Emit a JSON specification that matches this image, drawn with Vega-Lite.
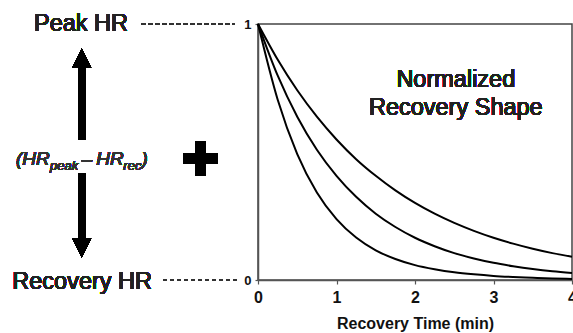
{
  "$schema": "https://vega.github.io/schema/vega-lite/v6.json",
  "autosize": {"type": "none"},
  "padding": {"left": 258, "top": 24, "right": 1, "bottom": 53},
  "width": 314,
  "height": 256,
  "background": "white",
  "config": {
    "font": "Liberation Sans",
    "view": {"stroke": "#444", "strokeWidth": 1.5},
    "text": {"fontWeight": "normal"},
    "axis": {"grid": false, "domainColor": "#555", "domainWidth": 1.5, "tickColor": "#555", "tickWidth": 1.2, "labelColor": "#111", "labelFontWeight": "bold", "titleColor": "#111"}
  },
  "data": {"values": [
    {"t": 0, "v": 1, "curve": "a"},
    {"t": 0.25, "v": 0.861, "curve": "a"},
    {"t": 0.5, "v": 0.741, "curve": "a"},
    {"t": 0.75, "v": 0.638, "curve": "a"},
    {"t": 1, "v": 0.549, "curve": "a"},
    {"t": 1.25, "v": 0.472, "curve": "a"},
    {"t": 1.5, "v": 0.407, "curve": "a"},
    {"t": 1.75, "v": 0.35, "curve": "a"},
    {"t": 2, "v": 0.301, "curve": "a"},
    {"t": 2.25, "v": 0.259, "curve": "a"},
    {"t": 2.5, "v": 0.223, "curve": "a"},
    {"t": 2.75, "v": 0.192, "curve": "a"},
    {"t": 3, "v": 0.165, "curve": "a"},
    {"t": 3.25, "v": 0.142, "curve": "a"},
    {"t": 3.5, "v": 0.122, "curve": "a"},
    {"t": 3.75, "v": 0.105, "curve": "a"},
    {"t": 4, "v": 0.091, "curve": "a"},
    {"t": 0, "v": 1, "curve": "b"},
    {"t": 0.25, "v": 0.799, "curve": "b"},
    {"t": 0.5, "v": 0.638, "curve": "b"},
    {"t": 0.75, "v": 0.509, "curve": "b"},
    {"t": 1, "v": 0.407, "curve": "b"},
    {"t": 1.25, "v": 0.325, "curve": "b"},
    {"t": 1.5, "v": 0.259, "curve": "b"},
    {"t": 1.75, "v": 0.207, "curve": "b"},
    {"t": 2, "v": 0.165, "curve": "b"},
    {"t": 2.25, "v": 0.132, "curve": "b"},
    {"t": 2.5, "v": 0.105, "curve": "b"},
    {"t": 2.75, "v": 0.084, "curve": "b"},
    {"t": 3, "v": 0.067, "curve": "b"},
    {"t": 3.25, "v": 0.054, "curve": "b"},
    {"t": 3.5, "v": 0.043, "curve": "b"},
    {"t": 3.75, "v": 0.034, "curve": "b"},
    {"t": 4, "v": 0.027, "curve": "b"},
    {"t": 0, "v": 1, "curve": "c"},
    {"t": 0.25, "v": 0.705, "curve": "c"},
    {"t": 0.5, "v": 0.492, "curve": "c"},
    {"t": 0.75, "v": 0.342, "curve": "c"},
    {"t": 1, "v": 0.238, "curve": "c"},
    {"t": 1.25, "v": 0.166, "curve": "c"},
    {"t": 1.5, "v": 0.116, "curve": "c"},
    {"t": 1.75, "v": 0.082, "curve": "c"},
    {"t": 2, "v": 0.058, "curve": "c"},
    {"t": 2.25, "v": 0.042, "curve": "c"},
    {"t": 2.5, "v": 0.03, "curve": "c"},
    {"t": 2.75, "v": 0.022, "curve": "c"},
    {"t": 3, "v": 0.016, "curve": "c"},
    {"t": 3.25, "v": 0.012, "curve": "c"},
    {"t": 3.5, "v": 0.009, "curve": "c"},
    {"t": 3.75, "v": 0.006, "curve": "c"},
    {"t": 4, "v": 0.004, "curve": "c"}
  ]},
  "layer": [
    {
      "mark": {"type": "line", "interpolate": "monotone", "color": "#000", "strokeWidth": 2, "clip": false},
      "encoding": {
        "x": {"field": "t", "type": "quantitative", "scale": {"domain": [0, 4], "nice": false},
          "axis": {"values": [0, 0.5, 1, 1.5, 2, 2.5, 3, 3.5, 4], "labelExpr": "datum.value % 1 === 0 ? format(datum.value, 'd') : ''", "labelFontSize": 16, "tickSize": 4, "labelPadding": 5, "labelFlush": false, "labelOverlap": false, "title": "Recovery Time (min)", "titleFontSize": 16, "titleFontWeight": "bold", "titlePadding": 10}},
        "y": {"field": "v", "type": "quantitative", "scale": {"domain": [0, 1], "nice": false},
          "axis": {"values": [0, 1], "format": "d", "labelFontSize": 13, "tickSize": 3, "labelPadding": 4, "title": null}},
        "detail": {"field": "curve"}
      }
    },
    {
      "mark": {"type": "rule", "strokeDash": [4, 3], "color": "#333", "strokeWidth": 1, "clip": false},
      "encoding": {"x": {"datum": -1.483, "type": "quantitative"}, "x2": {"datum": -0.293}, "y": {"datum": 1, "type": "quantitative"}}
    },
    {
      "mark": {"type": "rule", "strokeDash": [4, 3], "color": "#333", "strokeWidth": 1, "clip": false},
      "encoding": {"x": {"datum": -1.21, "type": "quantitative"}, "x2": {"datum": -0.268}, "y": {"datum": 0, "type": "quantitative"}}
    },
    {
      "mark": {"type": "text", "text": "Peak HR", "align": "right", "baseline": "middle", "fontSize": 23.5, "color": "#222", "clip": false},
      "encoding": {"x": {"datum": -1.656, "type": "quantitative"}, "y": {"datum": 1, "type": "quantitative"}}
    },
    {
      "mark": {"type": "text", "text": "Recovery HR", "align": "right", "baseline": "middle", "fontSize": 23.5, "dy": 2, "color": "#222", "clip": false},
      "encoding": {"x": {"datum": -1.35, "type": "quantitative"}, "y": {"datum": 0, "type": "quantitative"}}
    },
    {
      "mark": {"type": "rule", "color": "#000", "strokeWidth": 7, "clip": false},
      "encoding": {"x": {"datum": -2.246, "type": "quantitative"}, "y": {"datum": 0.547, "type": "quantitative"}, "y2": {"datum": 0.836}}
    },
    {
      "mark": {"type": "rule", "color": "#000", "strokeWidth": 7, "clip": false},
      "encoding": {"x": {"datum": -2.246, "type": "quantitative"}, "y": {"datum": 0.156, "type": "quantitative"}, "y2": {"datum": 0.418}}
    },
    {
      "mark": {"type": "point", "shape": "M-1,1L0,-1L1,1Z", "size": 361, "filled": true, "opacity": 1, "color": "#000", "strokeWidth": 0, "clip": false},
      "encoding": {"x": {"datum": -2.246, "type": "quantitative"}, "y": {"datum": 0.867, "type": "quantitative"}}
    },
    {
      "mark": {"type": "point", "shape": "M-1,-1L0,1L1,-1Z", "size": 361, "filled": true, "opacity": 1, "color": "#000", "strokeWidth": 0, "clip": false},
      "encoding": {"x": {"datum": -2.246, "type": "quantitative"}, "y": {"datum": 0.125, "type": "quantitative"}}
    },
    {
      "mark": {"type": "point", "shape": "M-0.28,-1H0.28V-0.28H1V0.28H0.28V1H-0.28V0.28H-1V-0.28H-0.28Z", "size": 1156, "filled": true, "opacity": 1, "color": "#000", "strokeWidth": 0, "clip": false},
      "encoding": {"x": {"datum": -0.732, "type": "quantitative"}, "y": {"datum": 0.475, "type": "quantitative"}}
    },
    {
      "mark": {"type": "text", "text": "(HR", "align": "left", "baseline": "alphabetic", "fontSize": 19, "fontStyle": "italic", "color": "#333", "clip": false},
      "encoding": {"x": {"datum": -3.083, "type": "quantitative"}, "y": {"datum": 0.449, "type": "quantitative"}}
    },
    {
      "mark": {"type": "text", "text": "peak", "align": "left", "baseline": "alphabetic", "fontSize": 13, "fontStyle": "italic", "color": "#333", "clip": false},
      "encoding": {"x": {"datum": -2.65, "type": "quantitative"}, "y": {"datum": 0.43, "type": "quantitative"}}
    },
    {
      "mark": {"type": "text", "text": "–", "align": "left", "baseline": "alphabetic", "fontSize": 19, "fontStyle": "italic", "color": "#333", "clip": false},
      "encoding": {"x": {"datum": -2.245, "type": "quantitative"}, "y": {"datum": 0.449, "type": "quantitative"}}
    },
    {
      "mark": {"type": "text", "text": "HR", "align": "left", "baseline": "alphabetic", "fontSize": 19, "fontStyle": "italic", "color": "#333", "clip": false},
      "encoding": {"x": {"datum": -2.06, "type": "quantitative"}, "y": {"datum": 0.449, "type": "quantitative"}}
    },
    {
      "mark": {"type": "text", "text": "rec", "align": "left", "baseline": "alphabetic", "fontSize": 13, "fontStyle": "italic", "color": "#333", "clip": false},
      "encoding": {"x": {"datum": -1.715, "type": "quantitative"}, "y": {"datum": 0.43, "type": "quantitative"}}
    },
    {
      "mark": {"type": "text", "text": ")", "align": "left", "baseline": "alphabetic", "fontSize": 19, "fontStyle": "italic", "color": "#333", "clip": false},
      "encoding": {"x": {"datum": -1.485, "type": "quantitative"}, "y": {"datum": 0.449, "type": "quantitative"}}
    },
    {
      "mark": {"type": "text", "text": ["Normalized", "Recovery Shape"], "align": "center", "baseline": "alphabetic", "fontSize": 23.5, "lineHeight": 28, "color": "#222", "clip": false},
      "encoding": {"x": {"datum": 2.52, "type": "quantitative"}, "y": {"datum": 0.754, "type": "quantitative"}}
    }
  ]
}
